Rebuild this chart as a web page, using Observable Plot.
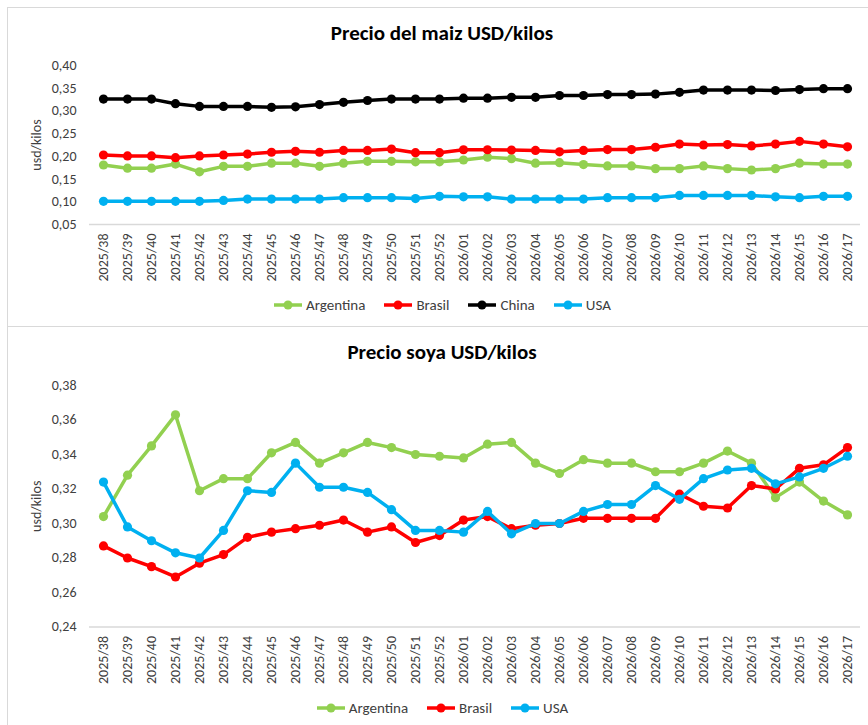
<!DOCTYPE html>
<html><head><meta charset="utf-8">
<script src="https://cdn.jsdelivr.net/npm/d3@7"></script>
<script src="https://cdn.jsdelivr.net/npm/@observablehq/plot@0.6"></script>
<style>
body{margin:0;background:#fff;font-family:Carlito,Lato,sans-serif;}
#wrap{position:relative;width:868px;height:725px;overflow:hidden;background:#fff;}
.vline{position:absolute;left:7px;top:7px;width:1px;height:718px;background:#d9d9d9}
.hline{position:absolute;left:7px;width:861px;height:1px;background:#d9d9d9}
.title{position:absolute;left:16px;width:852px;text-align:center;font-weight:bold;font-size:21px;color:#000;line-height:22px}
.legend{position:absolute;left:16px;width:852px;display:flex;justify-content:center;font-size:15px;color:#404040;line-height:16px}
.legend .item{display:flex;align-items:center;margin:0 9px}
.legend svg{margin-right:3px}
.chart{position:absolute;left:0}
.chart svg{background:transparent !important}
</style></head>
<body><div id="wrap"></div>
<script>
const weeks = ["2025/38","2025/39","2025/40","2025/41","2025/42","2025/43","2025/44","2025/45","2025/46","2025/47","2025/48","2025/49","2025/50","2025/51","2025/52","2026/01","2026/02","2026/03","2026/04","2026/05","2026/06","2026/07","2026/08","2026/09","2026/10","2026/11","2026/12","2026/13","2026/14","2026/15","2026/16","2026/17"];

const maizArgentina = [0.181,0.174,0.174,0.183,0.166,0.178,0.178,0.185,0.185,0.178,0.185,0.189,0.189,0.188,0.188,0.192,0.198,0.195,0.185,0.186,0.182,0.179,0.179,0.173,0.173,0.179,0.173,0.170,0.173,0.185,0.183,0.183];
const maizBrasil = [0.203,0.201,0.201,0.197,0.201,0.203,0.205,0.209,0.211,0.209,0.213,0.213,0.216,0.208,0.208,0.2145,0.2145,0.214,0.213,0.210,0.213,0.215,0.215,0.220,0.227,0.225,0.226,0.223,0.227,0.233,0.227,0.221];
const maizChina = [0.326,0.326,0.326,0.316,0.310,0.310,0.310,0.308,0.309,0.314,0.319,0.323,0.326,0.326,0.326,0.328,0.328,0.330,0.330,0.334,0.334,0.336,0.336,0.337,0.341,0.346,0.346,0.346,0.345,0.347,0.349,0.349];
const maizUSA = [0.101,0.101,0.101,0.101,0.101,0.103,0.106,0.106,0.106,0.106,0.109,0.109,0.109,0.107,0.112,0.111,0.111,0.106,0.106,0.106,0.106,0.109,0.109,0.109,0.114,0.114,0.114,0.114,0.111,0.109,0.112,0.112];

const soyaArgentina = [0.304,0.328,0.345,0.363,0.319,0.326,0.326,0.341,0.347,0.335,0.341,0.347,0.344,0.340,0.339,0.338,0.346,0.347,0.335,0.329,0.337,0.335,0.335,0.330,0.330,0.335,0.342,0.335,0.315,0.324,0.313,0.305];
const soyaBrasil = [0.287,0.280,0.275,0.269,0.277,0.282,0.292,0.295,0.297,0.299,0.302,0.295,0.298,0.289,0.293,0.302,0.304,0.297,0.299,0.300,0.303,0.303,0.303,0.303,0.317,0.310,0.309,0.322,0.320,0.332,0.334,0.344];
const soyaUSA = [0.324,0.298,0.290,0.283,0.280,0.296,0.319,0.318,0.335,0.321,0.321,0.318,0.308,0.296,0.296,0.295,0.307,0.294,0.300,0.300,0.307,0.311,0.311,0.322,0.314,0.326,0.331,0.332,0.323,0.327,0.332,0.339];

const maizTicks = [0.05,0.10,0.15,0.20,0.25,0.30,0.35,0.40];
const soyaTicks = [0.24,0.26,0.28,0.30,0.32,0.34,0.36,0.38];

const countries = ["Argentina","Brasil","China","USA"];
const colors = {Argentina:"#92d050", Brasil:"#ff0000", China:"#000000", USA:"#00b0f0"};

const maizSeries = {Argentina:maizArgentina, Brasil:maizBrasil, China:maizChina, USA:maizUSA};
const soyaSeries = {Argentina:soyaArgentina, Brasil:soyaBrasil, USA:soyaUSA};

const fmt = d => d.toFixed(2).replace(".", ",");
const FONT = "Carlito, Lato, sans-serif";

function makeChart(series, ticks, height, marginTop, marginBottom) {
  const marks = [
    Plot.ruleY([ticks[0]], {stroke:"#d9d9d9", strokeWidth:1.5}),
    Plot.axisY({ticks, tickSize:0, tickPadding:13, tickFormat:fmt, fontSize:14, label:"usd/kilos", labelAnchor:"center", labelArrow:"none", labelOffset:58}),
    Plot.axisX({tickRotate:-90, tickSize:0, tickPadding:9, fontSize:14, label:null})
  ];
  for (const c of Object.keys(series)) {
    const rows = weeks.map((w,i) => ({week:w, value:series[c][i], country:c}));
    marks.push(Plot.line(rows, {x:"week", y:"value", stroke:colors[c], strokeWidth:3.5, strokeLinejoin:"round"}));
    marks.push(Plot.dot(rows, {x:"week", y:"value", fill:colors[c], r:4.6, stroke:"none"}));
  }
  return Plot.plot({
    width:868, height, marginTop, marginBottom, marginLeft:89, marginRight:8,
    style:{fontFamily:FONT, color:"#404040", background:"transparent", fontSize:"14px"},
    x:{type:"point", domain:weeks, padding:0.5},
    y:{domain:[ticks[0], ticks[ticks.length-1]]},
    marks
  });
}

function legend(keys) {
  const div = document.createElement("div");
  div.className = "legend";
  for (const k of keys) {
    const it = document.createElement("div");
    it.className = "item";
    it.innerHTML = `<svg width="30" height="10"><line x1="1" x2="29" y1="5" y2="5" stroke="${colors[k]}" stroke-width="3.5"/><circle cx="15" cy="5" r="4.5" fill="${colors[k]}"/></svg><span>${k}</span>`;
    div.appendChild(it);
  }
  return div;
}

const wrap = document.getElementById("wrap");

const c1 = document.createElement("div"); c1.className="chart"; c1.style.top="0px";
c1.appendChild(makeChart(maizSeries, maizTicks, 300, 65, 76));
wrap.appendChild(c1);

const c2 = document.createElement("div"); c2.className="chart"; c2.style.top="320px";
c2.appendChild(makeChart(soyaSeries, soyaTicks, 390, 65, 83.5));
wrap.appendChild(c2);

wrap.insertAdjacentHTML("beforeend", `<div class="vline"></div><div class="hline" style="top:7px"></div><div class="hline" style="top:326px"></div>
<div class="title" style="top:22px">Precio del maiz USD/kilos</div>
<div class="title" style="top:341px">Precio soya USD/kilos</div>`);

const l1 = legend(countries); l1.style.top = "297px"; wrap.appendChild(l1);
const l2 = legend(Object.keys(soyaSeries)); l2.style.top = "700px"; wrap.appendChild(l2);
</script></body></html>
